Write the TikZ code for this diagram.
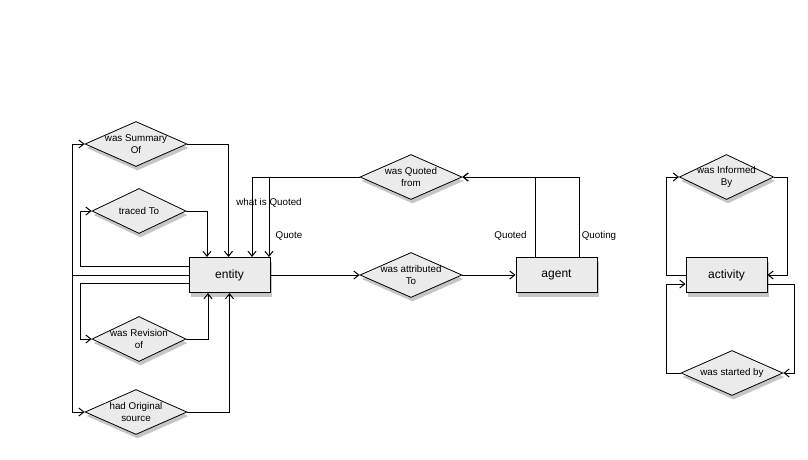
\documentclass[tikz,border=0pt]{standalone}
\usepackage{fontspec}
\setmainfont{Liberation Sans}
\usetikzlibrary{shapes.geometric,arrows.meta,shadows}
\definecolor{boxgray}{RGB}{235,235,235}

\begin{document}
\begin{tikzpicture}[x=1pt,y=-1pt,
  concept/.style={draw,fill=boxgray,line width=1pt,minimum width=81pt,
    minimum height=35pt,font=\fontsize{12}{14}\selectfont,
    drop shadow={shadow xshift=1.5pt,shadow yshift=-4pt,opacity=0.45}},
  relation/.style={diamond,draw,fill=boxgray,line width=0.8pt,aspect=2.27,
    inner xsep=-5pt,inner ysep=0pt,minimum width=102pt,minimum height=45pt,
    align=center,font=\fontsize{9.8}{12.5}\selectfont,
    drop shadow={shadow xshift=1.5pt,shadow yshift=-4pt,opacity=0.45}},
  narrow/.style={minimum width=94pt,aspect=2.1},
  rel/.style={-{Straight Barb[length=5pt,width=8pt]},line width=1pt},
  lbl/.style={font=\fontsize{9.8}{12}\selectfont}]
  \useasboundingbox (0,0) rectangle (808,459);
  % the three classes
  \node[concept] (entity) at (229.5,275) {entity};
  \node[concept] (agent) at (556.5,275) {agent};
  \node[concept] (activity) at (726.5,275) {activity};
  % relations
  \node[relation] (summary) at (136,144) {was Summary\\Of};
  \node[relation,narrow] (traced) at (139,211) {traced To};
  \node[relation,narrow] (revision) at (139,339) {was Revision\\of};
  \node[relation] (original) at (136,412) {had Original\\source};
  \node[relation] (quoted) at (411,177) {was Quoted\\from};
  \node[relation] (attributed) at (411,275) {was attributed\\To};
  \node[relation,narrow] (informed) at (726.5,177) {was Informed\\By};
  \node[relation] (started) at (732,373) {was started by};
  % entity loops
  \coordinate (lt) at (72,275);
  \draw[line width=1pt] (entity.west) -- (lt);
  \draw[rel] (lt) |- (summary.west);
  \draw[rel] (lt) |- (original.west);
  \draw[rel] ([yshift=8.5pt]entity.west) -- ++(-108,0) |- (traced.west);
  \draw[rel] (traced.east) -| ([xshift=-22.5pt]entity.north);
  \draw[rel] (summary.east) -| ([xshift=-1pt]entity.north);
  \draw[rel] ([yshift=-8.5pt]entity.west) -- ++(-108,0) |- (revision.west);
  \draw[rel] (revision.east) -| ([xshift=-21.5pt]entity.south);
  \draw[rel] (original.east) -| (entity.south);
  % quotation
  \draw[rel] (quoted.west) -| ([xshift=22.5pt]entity.north);
  \draw[rel] (quoted.west) -| ([xshift=39.5pt]entity.north);
  \draw[rel] ([xshift=-21.5pt]agent.north) |- (quoted.east);
  \draw[rel] ([xshift=22.5pt]agent.north) |- (quoted.east);
  \node[lbl] (lwhat) at (269,203) {what is Quoted};
  \node[lbl] (lquote) at (289,236) {Quote};
  \node[lbl] (lquoted) at (510.5,236) {Quoted};
  \node[lbl] (lquoting) at (599,236) {Quoting};
  % attribution
  \draw[rel] (entity.east) -- (attributed.west);
  \draw[rel] (attributed.east) -- (agent.west);
  % activity loops
  \draw[rel] (activity.west) -- ++(-19,0) |- (informed.west);
  \draw[rel] (informed.east) -- ++(13,0) |- (activity.east);
  \draw[rel] ([yshift=-9pt]activity.east) -- ++(27,0) |- (started.east);
  \draw[rel] (started.west) -- ++(-14,0) |- ([yshift=-9pt]activity.west);
\end{tikzpicture}
\end{document}
